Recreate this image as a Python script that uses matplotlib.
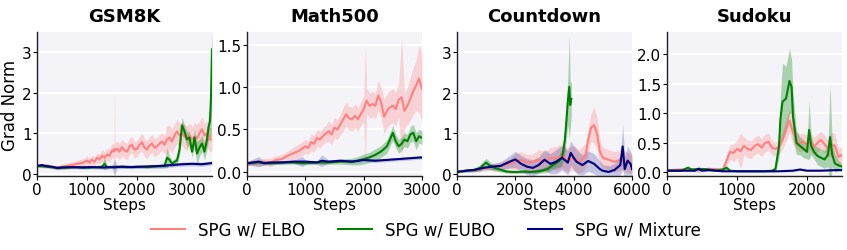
import matplotlib
matplotlib.use("Agg")
import matplotlib.pyplot as plt
import numpy as np

# ---- data ----
panels = ["GSM8K", "Math500", "Countdown", "Sudoku"]
labels = ["SPG w/ ELBO", "SPG w/ EUBO", "SPG w/ Mixture"]

# GSM8K
gsm_elbo_x = [0, 100, 200, 300, 400, 500, 600, 700, 800, 900, 1000, 1050, 1100, 1150, 1200, 1250, 1300, 1350, 1400,
              1450, 1500, 1540, 1550, 1560, 1600, 1650, 1700, 1750, 1800, 1850, 1900, 1950, 2000, 2050, 2100, 2150,
              2200, 2250, 2300, 2350, 2400, 2450, 2500, 2550, 2600, 2650, 2700, 2750, 2800, 2850, 2900, 2950, 3000,
              3050, 3100, 3150, 3200, 3250, 3300, 3350, 3400, 3450, 3500]
gsm_elbo_y = [0.20, 0.19, 0.21, 0.17, 0.15, 0.18, 0.20, 0.22, 0.25, 0.27, 0.33, 0.28, 0.35, 0.30, 0.40, 0.36, 0.45,
              0.40, 0.48, 0.45, 0.58, 0.55, 0.62, 0.58, 0.62, 0.55, 0.66, 0.58, 0.55, 0.68, 0.72, 0.60, 0.62, 0.72,
              0.78, 0.65, 0.60, 0.70, 0.75, 0.65, 0.68, 0.75, 0.80, 0.72, 0.85, 0.90, 0.80, 0.95, 1.05, 0.95, 1.00,
              0.92, 0.88, 0.95, 0.85, 0.92, 0.88, 1.00, 1.10, 0.95, 1.00, 0.85, 0.85]
gsm_elbo_s = [0.04, 0.04, 0.05, 0.05, 0.05, 0.06, 0.07, 0.08, 0.08, 0.10, 0.10, 0.10, 0.12, 0.12, 0.12, 0.12, 0.15,
              0.15, 0.15, 0.15, 0.18, 0.18, 1.50, 0.18, 0.20, 0.20, 0.20, 0.20, 0.20, 0.20, 0.20, 0.20, 0.20, 0.20,
              0.22, 0.22, 0.22, 0.22, 0.22, 0.22, 0.22, 0.22, 0.22, 0.22, 0.35, 0.30, 0.30, 0.30, 0.30, 0.30, 0.30,
              0.30, 0.30, 0.30, 0.30, 0.35, 0.35, 0.30, 0.30, 0.30, 0.30, 0.30, 0.30]
gsm_eubo_x = [0, 200, 400, 600, 800, 1000, 1200, 1300, 1350, 1400, 1600, 1800, 2000, 2200, 2400, 2550, 2600, 2650,
              2700, 2750, 2800, 2850, 2900, 2950, 3000, 3050, 3100, 3150, 3200, 3250, 3300, 3350, 3400, 3430, 3460,
              3480, 3500]
gsm_eubo_y = [0.20, 0.18, 0.15, 0.16, 0.17, 0.16, 0.17, 0.18, 0.25, 0.17, 0.18, 0.17, 0.18, 0.17, 0.19, 0.20, 0.40,
              0.35, 0.25, 0.30, 0.33, 0.60, 1.20, 1.05, 0.85, 0.90, 0.55, 0.90, 0.50, 0.65, 0.75, 0.55, 0.85, 1.15,
              1.30, 1.90, 3.07]
gsm_eubo_s = [0.03, 0.03, 0.03, 0.03, 0.03, 0.03, 0.03, 0.04, 0.15, 0.04, 0.03, 0.03, 0.03, 0.03, 0.04, 0.05, 0.25,
              0.10, 0.08, 0.08, 0.10, 0.15, 0.20, 0.15, 0.20, 0.15, 0.15, 0.20, 0.30, 0.20, 0.20, 0.20, 0.25, 0.30,
              0.40, 1.00, 0.60]
gsm_mix_x = [0, 100, 200, 300, 400, 500, 700, 900, 1100, 1300, 1500, 1550, 1600, 1700, 1900, 2100, 2300, 2500, 2700,
             2900, 3100, 3300, 3500]
gsm_mix_y = [0.20, 0.22, 0.19, 0.18, 0.15, 0.16, 0.17, 0.16, 0.17, 0.16, 0.17, 0.16, 0.17, 0.18, 0.17, 0.18, 0.19,
             0.20, 0.22, 0.24, 0.25, 0.24, 0.27]
gsm_mix_s = [0.03, 0.03, 0.03, 0.03, 0.04, 0.04, 0.04, 0.04, 0.04, 0.04, 0.04, 0.20, 0.04, 0.04, 0.04, 0.04, 0.04,
             0.05, 0.05, 0.05, 0.05, 0.05, 0.05]

# Math500
m500_elbo_x = [0, 100, 200, 300, 400, 500, 600, 700, 800, 900, 1000, 1050, 1100, 1150, 1200, 1250, 1300, 1350, 1400,
               1450, 1500, 1550, 1600, 1650, 1700, 1750, 1800, 1850, 1900, 1950, 2000, 2030, 2050, 2100, 2150, 2200,
               2250, 2300, 2350, 2400, 2450, 2500, 2550, 2600, 2650, 2700, 2750, 2800, 2850, 2900, 2950, 3000]
m500_elbo_y = [0.10, 0.11, 0.10, 0.12, 0.11, 0.14, 0.15, 0.19, 0.22, 0.25, 0.30, 0.28, 0.35, 0.33, 0.40, 0.38, 0.42,
               0.45, 0.48, 0.44, 0.52, 0.50, 0.56, 0.62, 0.68, 0.63, 0.62, 0.66, 0.62, 0.68, 0.74, 0.80, 0.84, 0.78,
               0.80, 0.78, 0.90, 0.82, 0.65, 0.72, 0.76, 0.78, 0.74, 0.85, 0.88, 0.72, 0.78, 0.86, 0.95, 1.02, 1.10,
               0.98]
m500_elbo_s = [0.03, 0.03, 0.04, 0.04, 0.05, 0.05, 0.05, 0.06, 0.07, 0.08, 0.08, 0.08, 0.10, 0.10, 0.10, 0.10, 0.10,
               0.10, 0.12, 0.12, 0.12, 0.12, 0.12, 0.14, 0.14, 0.14, 0.14, 0.14, 0.14, 0.14, 0.15, 0.70, 0.15, 0.15,
               0.15, 0.15, 0.18, 0.18, 0.20, 0.20, 0.20, 0.20, 0.20, 0.20, 0.70, 0.20, 0.22, 0.25, 0.28, 0.30, 0.40,
               0.40]
m500_eubo_x = [0, 200, 400, 600, 800, 1000, 1200, 1400, 1600, 1800, 1900, 2000, 2100, 2200, 2300, 2400, 2450, 2500,
               2550, 2600, 2650, 2700, 2750, 2800, 2850, 2900, 2950, 3000]
m500_eubo_y = [0.10, 0.11, 0.10, 0.11, 0.11, 0.10, 0.11, 0.11, 0.12, 0.12, 0.13, 0.15, 0.17, 0.20, 0.24, 0.30, 0.38,
               0.46, 0.36, 0.30, 0.33, 0.38, 0.36, 0.44, 0.46, 0.36, 0.42, 0.40]
m500_eubo_s = [0.02, 0.02, 0.02, 0.02, 0.02, 0.02, 0.02, 0.02, 0.03, 0.04, 0.05, 0.06, 0.06, 0.07, 0.07, 0.08, 0.08,
               0.09, 0.08, 0.08, 0.08, 0.08, 0.08, 0.09, 0.10, 0.10, 0.08, 0.08]
m500_mix_x = [0, 200, 300, 400, 600, 800, 950, 1000, 1200, 1280, 1400, 1600, 1800, 2000, 2200, 2400, 2600, 2800, 3000]
m500_mix_y = [0.10, 0.12, 0.10, 0.11, 0.11, 0.12, 0.12, 0.12, 0.11, 0.13, 0.12, 0.13, 0.12, 0.14, 0.13, 0.14, 0.15,
              0.16, 0.17]
m500_mix_s = [0.02, 0.06, 0.02, 0.02, 0.02, 0.02, 0.06, 0.02, 0.02, 0.07, 0.02, 0.02, 0.02, 0.02, 0.02, 0.02, 0.02,
              0.02, 0.02]

# Countdown
cd_elbo_x = [0, 300, 600, 900, 1200, 1500, 1800, 2000, 2200, 2400, 2600, 2800, 3000, 3200, 3400, 3600, 3800, 4000,
             4200, 4400, 4500, 4600, 4700, 4800, 4900, 5000, 5200, 5400, 5600, 5800, 6000]
cd_elbo_y = [0.05, 0.08, 0.10, 0.13, 0.17, 0.20, 0.25, 0.30, 0.35, 0.28, 0.30, 0.35, 0.30, 0.40, 0.38, 0.45, 0.35,
             0.40, 0.30, 0.45, 0.85, 1.15, 1.20, 1.00, 0.55, 0.40, 0.35, 0.30, 0.35, 0.30, 0.25]
cd_elbo_s = [0.02, 0.03, 0.04, 0.05, 0.08, 0.10, 0.12, 0.20, 0.20, 0.20, 0.20, 0.25, 0.25, 0.25, 0.30, 0.30, 0.30,
             0.30, 0.30, 0.30, 0.30, 0.35, 0.45, 0.40, 0.30, 0.25, 0.25, 0.25, 0.25, 0.25, 0.25]
cd_eubo_x = [0, 300, 600, 800, 900, 1000, 1100, 1200, 1300, 1500, 1700, 1900, 2100, 2300, 2500, 2700, 2900, 3100,
             3300, 3500, 3600, 3650, 3700, 3750, 3800, 3850, 3880, 3920]
cd_eubo_y = [0.05, 0.08, 0.10, 0.15, 0.22, 0.28, 0.22, 0.18, 0.15, 0.10, 0.06, 0.05, 0.05, 0.06, 0.05, 0.06, 0.08,
             0.12, 0.22, 0.32, 0.40, 0.60, 0.85, 1.30, 1.80, 2.15, 1.70, 1.85]
cd_eubo_s = [0.02, 0.03, 0.05, 0.08, 0.10, 0.10, 0.10, 0.08, 0.08, 0.05, 0.04, 0.04, 0.04, 0.04, 0.04, 0.05, 0.06,
             0.08, 0.10, 0.15, 0.20, 0.25, 0.30, 0.40, 0.60, 1.30, 0.60, 0.40]
cd_mix_x = [0, 300, 600, 900, 1200, 1500, 1800, 2000, 2200, 2400, 2600, 2800, 3000, 3200, 3400, 3600, 3800, 3900,
            4000, 4100, 4300, 4500, 4700, 4900, 5000, 5200, 5400, 5500, 5600, 5680, 5750, 5850, 5950, 6000]
cd_mix_y = [0.05, 0.08, 0.10, 0.15, 0.18, 0.20, 0.30, 0.36, 0.25, 0.18, 0.15, 0.22, 0.35, 0.25, 0.30, 0.40, 0.28,
            0.52, 0.40, 0.30, 0.22, 0.32, 0.25, 0.12, 0.08, 0.05, 0.10, 0.16, 0.22, 0.68, 0.12, 0.33, 0.25, 0.12]
cd_mix_s = [0.02, 0.03, 0.04, 0.05, 0.07, 0.10, 0.15, 0.20, 0.20, 0.20, 0.20, 0.20, 0.25, 0.25, 0.30, 0.30, 0.30,
            0.30, 0.30, 0.30, 0.25, 0.25, 0.25, 0.20, 0.15, 0.15, 0.15, 0.20, 0.25, 0.55, 0.30, 0.35, 0.30, 0.30]

# Sudoku
sdk_elbo_x = [0, 200, 400, 600, 800, 850, 900, 950, 1000, 1050, 1100, 1150, 1200, 1250, 1300, 1350, 1400, 1450, 1500,
              1550, 1600, 1650, 1700, 1750, 1800, 1850, 1900, 1950, 2000, 2050, 2100, 2150, 2200, 2250, 2300, 2350,
              2400, 2450, 2500]
sdk_elbo_y = [0.04, 0.05, 0.05, 0.06, 0.05, 0.20, 0.35, 0.33, 0.40, 0.36, 0.45, 0.40, 0.38, 0.45, 0.48, 0.42, 0.50,
              0.52, 0.42, 0.40, 0.43, 0.55, 0.72, 0.88, 0.68, 0.55, 0.50, 0.52, 0.48, 0.52, 0.44, 0.50, 0.55, 0.48,
              0.40, 0.48, 0.45, 0.26, 0.30]
sdk_elbo_s = [0.02, 0.02, 0.02, 0.03, 0.03, 0.10, 0.12, 0.15, 0.15, 0.30, 0.15, 0.15, 0.15, 0.15, 0.15, 0.15, 0.15,
              0.15, 0.12, 0.12, 0.12, 0.15, 0.20, 0.20, 0.20, 0.15, 0.15, 0.15, 0.15, 0.15, 0.15, 0.15, 0.15, 0.15,
              0.15, 0.20, 0.20, 0.15, 0.12]
sdk_eubo_x = [0, 200, 300, 350, 500, 600, 700, 800, 850, 900, 1000, 1200, 1400, 1500, 1550, 1600, 1620, 1650, 1700,
              1750, 1780, 1800, 1850, 1900, 1950, 2000, 2030, 2060, 2100, 2150, 2200, 2250, 2300, 2330, 2360, 2400,
              2450, 2500]
sdk_eubo_y = [0.03, 0.03, 0.08, 0.05, 0.06, 0.05, 0.03, 0.05, 0.08, 0.03, 0.02, 0.02, 0.02, 0.03, 0.06, 0.45, 0.90,
              1.20, 1.25, 1.55, 1.45, 0.95, 0.50, 0.45, 0.40, 0.35, 0.72, 0.45, 0.35, 0.28, 0.25, 0.22, 0.30, 0.60,
              0.30, 0.15, 0.12, 0.10]
sdk_eubo_s = [0.01, 0.01, 0.03, 0.02, 0.02, 0.02, 0.01, 0.02, 0.03, 0.01, 0.01, 0.01, 0.01, 0.02, 0.05, 0.20, 0.40,
              0.65, 0.55, 0.55, 0.45, 0.40, 0.20, 0.15, 0.15, 0.12, 0.50, 0.15, 0.12, 0.15, 0.15, 0.15, 0.20, 0.90,
              0.20, 0.15, 0.08, 0.05]
sdk_mix_x = [0, 200, 400, 450, 500, 600, 800, 1000, 1200, 1400, 1600, 1800, 1900, 1950, 2000, 2200, 2400, 2500]
sdk_mix_y = [0.03, 0.03, 0.03, 0.06, 0.03, 0.04, 0.02, 0.02, 0.02, 0.02, 0.02, 0.03, 0.05, 0.04, 0.03, 0.03, 0.04,
             0.04]
sdk_mix_s = [0.01, 0.01, 0.02, 0.06, 0.02, 0.02, 0.01, 0.01, 0.01, 0.01, 0.01, 0.02, 0.02, 0.02, 0.01, 0.01, 0.02,
             0.02]

xmax = [3500, 3000, 6000, 2500]
ylims = [(-0.05, 3.5), (-0.05, 1.65), (-0.05, 3.5), (-0.06, 2.38)]
xticks = [[0, 1000, 2000, 3000], [0, 1000, 2000, 3000], [0, 2000, 4000, 6000], [0, 1000, 2000]]
yticks = [[0, 1, 2, 3], [0.0, 0.5, 1.0, 1.5], [0, 1, 2, 3], [0.0, 0.5, 1.0, 1.5, 2.0]]

series = [
    [(gsm_elbo_x, gsm_elbo_y, gsm_elbo_s), (gsm_eubo_x, gsm_eubo_y, gsm_eubo_s), (gsm_mix_x, gsm_mix_y, gsm_mix_s)],
    [(m500_elbo_x, m500_elbo_y, m500_elbo_s), (m500_eubo_x, m500_eubo_y, m500_eubo_s),
     (m500_mix_x, m500_mix_y, m500_mix_s)],
    [(cd_elbo_x, cd_elbo_y, cd_elbo_s), (cd_eubo_x, cd_eubo_y, cd_eubo_s), (cd_mix_x, cd_mix_y, cd_mix_s)],
    [(sdk_elbo_x, sdk_elbo_y, sdk_elbo_s), (sdk_eubo_x, sdk_eubo_y, sdk_eubo_s), (sdk_mix_x, sdk_mix_y, sdk_mix_s)],
]

colors = ['#ff8080', 'green', 'navy']
band_alpha = [0.3, 0.3, 0.2]

fig = plt.figure(figsize=(8.47, 2.51), dpi=100)
lefts = [37, 247, 457, 667]
handles = []
for i, name in enumerate(panels):
    ax = fig.add_axes([lefts[i] / 847, 74 / 251, 175 / 847, 144 / 251])
    ax.set_facecolor('#f4f4f8')
    ax.grid(True, axis='y', color='white', linewidth=1.2)
    ax.set_axisbelow(True)
    for j, (x, y, s) in enumerate(series[i]):
        x = np.array(x)
        y = np.array(y)
        s = np.array(s)
        ax.fill_between(x, y - s, y + s, color=colors[j], alpha=band_alpha[j], linewidth=0)
        ln, = ax.plot(x, y, color=colors[j], linewidth=1.5, label=labels[j])
        if i == 0:
            handles.append(ln)
    ax.set_xlim(0, xmax[i])
    ax.set_ylim(*ylims[i])
    ax.set_xticks(xticks[i])
    ax.set_yticks(yticks[i])
    ax.tick_params(labelsize=11, length=3, pad=1)
    ax.set_title(name, fontsize=13, fontweight='bold', pad=8)
    ax.set_xlabel('Steps', fontsize=11, labelpad=0)
    for sp in ['top', 'right']:
        ax.spines[sp].set_visible(False)
    for sp in ['left', 'bottom']:
        ax.spines[sp].set_color('#222222')
        ax.spines[sp].set_linewidth(1.0)
    if i == 0:
        ax.set_ylabel('Grad Norm', fontsize=12, labelpad=2)

fig.legend(handles, labels, loc='center', bbox_to_anchor=(0.503, 0.082), ncol=3, frameon=False,
           fontsize=12, handlelength=2.0, columnspacing=2.0, handletextpad=0.8)

fig.savefig('out.png', dpi=100)
